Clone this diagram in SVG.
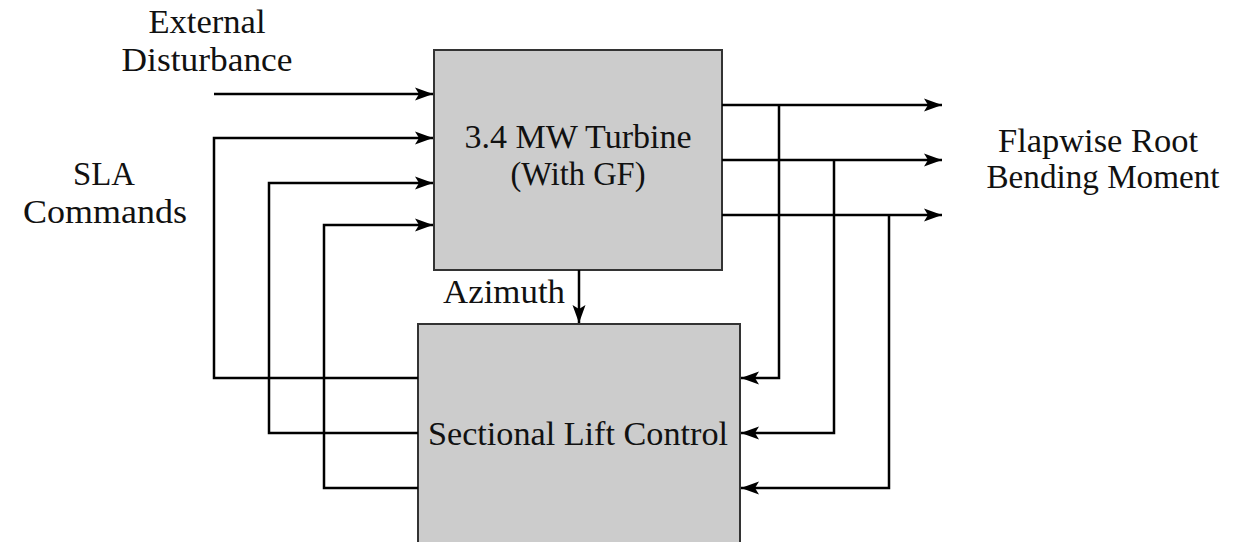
<svg xmlns="http://www.w3.org/2000/svg" width="1243" height="542" viewBox="0 0 1243 542">
<style>
.box{fill:#cccccc;stroke:#333;stroke-width:2}
.ln{fill:none;stroke:#000;stroke-width:2.5}
.t{font-family:"Liberation Serif","DejaVu Serif",serif;font-size:33px;fill:#111;text-anchor:middle}
</style>
<defs>
<marker id="ah" viewBox="0 0 18 14" refX="18" refY="7" markerWidth="18" markerHeight="14" markerUnits="userSpaceOnUse" orient="auto">
<path d="M0,0.5 L18,7 L0,13.5 L4,7 Z" fill="#000"/>
</marker>
</defs>
<rect width="1243" height="542" fill="#fff"/>
<g id="turbine">
<rect class="box" x="434" y="50" width="288" height="220"/>
<text class="t" x="578" y="148" textLength="227" lengthAdjust="spacingAndGlyphs">3.4 MW Turbine</text>
<text class="t" x="578" y="185" textLength="135" lengthAdjust="spacingAndGlyphs">(With GF)</text>
</g>
<g id="slc">
<rect class="box" x="418" y="324" width="322" height="230"/>
<text class="t" x="578" y="445" textLength="300" lengthAdjust="spacingAndGlyphs">Sectional Lift Control</text>
</g>
<g id="labels">
<text class="t" x="207" y="33" textLength="117" lengthAdjust="spacingAndGlyphs">External</text>
<text class="t" x="207" y="71" textLength="171" lengthAdjust="spacingAndGlyphs">Disturbance</text>
<text class="t" x="104" y="185" textLength="62" lengthAdjust="spacingAndGlyphs">SLA</text>
<text class="t" x="105" y="223" textLength="164" lengthAdjust="spacingAndGlyphs">Commands</text>
<text class="t" x="1098" y="152" textLength="200" lengthAdjust="spacingAndGlyphs">Flapwise Root</text>
<text class="t" x="1103" y="188" textLength="233" lengthAdjust="spacingAndGlyphs">Bending Moment</text>
<text class="t" x="504" y="303" textLength="122" lengthAdjust="spacingAndGlyphs">Azimuth</text>
</g>
<g id="connectors">
<path class="ln" d="M214,94 H433" marker-end="url(#ah)"/>
<path class="ln" d="M418,378 H214 V138 H433" marker-end="url(#ah)"/>
<path class="ln" d="M418,433 H269 V183 H433" marker-end="url(#ah)"/>
<path class="ln" d="M418,488 H324 V225 H433" marker-end="url(#ah)"/>
<path class="ln" d="M722,105 H942" marker-end="url(#ah)"/>
<path class="ln" d="M722,160 H942" marker-end="url(#ah)"/>
<path class="ln" d="M722,215 H942" marker-end="url(#ah)"/>
<path class="ln" d="M779,105 V378 H741" marker-end="url(#ah)"/>
<path class="ln" d="M834,160 V433 H741" marker-end="url(#ah)"/>
<path class="ln" d="M889,215 V488 H741" marker-end="url(#ah)"/>
<path class="ln" d="M579,270 V323" marker-end="url(#ah)"/>
</g>
</svg>
